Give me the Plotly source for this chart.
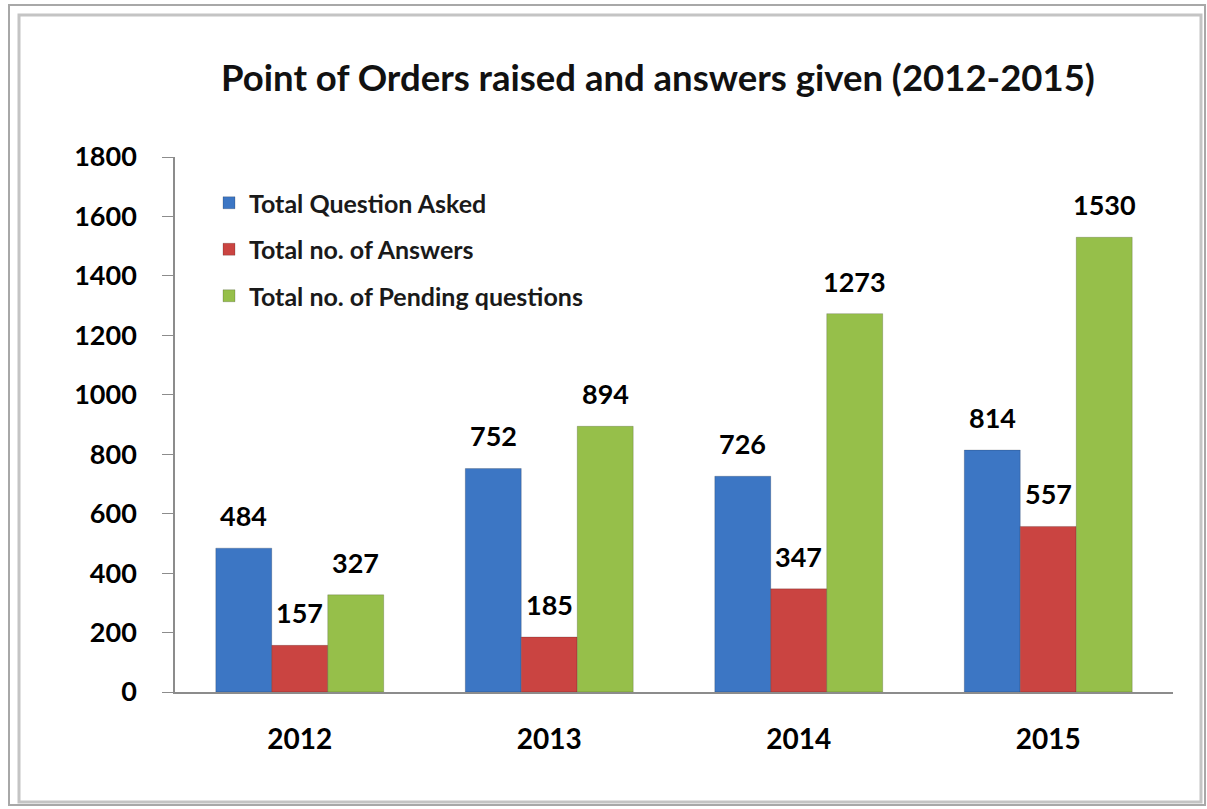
import plotly.graph_objects as go

years = ["2012", "2013", "2014", "2015"]
asked = [484, 752, 726, 814]
answers = [157, 185, 347, 557]
pending = [327, 894, 1273, 1530]
series_names = ["Total Question Asked", "Total no. of Answers", "Total no. of Pending questions"]
series_colors = ["#3C76C4", "#CA4441", "#96BF4A"]
y_ticks = [0, 200, 400, 600, 800, 1000, 1200, 1400, 1600, 1800]

W, H = 1207, 809
L, R, T, B = 175, 34, 157, 117
pw, ph = W - L - R, H - T - B

def px_x(x):
    return (x - L) / pw

def px_y(y):
    return (H - B - y) / ph

FONT = "Lato, 'Open Sans', sans-serif"
BARGAP = 0.327
bw = (1 - BARGAP) / 3

fig = go.Figure()
all_series = [asked, answers, pending]
for j, (name, vals, col) in enumerate(zip(series_names, all_series, series_colors)):
    fig.add_trace(go.Bar(
        x=years, y=vals, name=name,
        marker=dict(color=col, line=dict(color="rgba(0,0,0,0.18)", width=1)),
        legendgroup=name,
    ))
    for i, v in enumerate(vals):
        fig.add_annotation(
            x=i + (j - 1) * bw, y=v, xref="x", yref="y",
            text=str(v), showarrow=False, yanchor="bottom", yshift=14,
            font=dict(family=FONT, size=27, color="#000000", weight=700),
        )

shapes = [
    dict(type="rect", xref="paper", yref="paper",
         x0=px_x(9), x1=px_x(1205), y0=px_y(805), y1=px_y(5),
         line=dict(color="#A8A8A8", width=2), fillcolor="rgba(0,0,0,0)", layer="below"),
    dict(type="rect", xref="paper", yref="paper",
         x0=px_x(19), x1=px_x(1201), y0=px_y(802), y1=px_y(15),
         line=dict(color="#C4C4C4", width=3), fillcolor="#FFFFFF", layer="below"),
]

fig.update_layout(
    width=W, height=H, autosize=False,
    margin=dict(l=L, r=R, t=T, b=B),
    paper_bgcolor="#FFFFFF", plot_bgcolor="rgba(0,0,0,0)",
    barmode="group", bargap=BARGAP, bargroupgap=0,
    title=dict(text="Point of Orders raised and answers given (2012-2015)",
               x=658 / W, xanchor="center",
               y=1 - 78 / H, yanchor="middle",
               font=dict(family=FONT, size=36.5, color="#111111", weight=700)),
    legend=dict(x=px_x(209), y=px_y(180), xanchor="left", yanchor="top",
                font=dict(family=FONT, size=25, color="#1a1a1a", weight=700),
                bgcolor="rgba(0,0,0,0)", tracegroupgap=11, traceorder="grouped",
                itemwidth=30),
    xaxis=dict(showline=True, linecolor="#8C8C8C", linewidth=1.5, ticks="",
               showgrid=False, ticklabelstandoff=22,
               tickfont=dict(family=FONT, size=28, color="#000000", weight=700)),
    yaxis=dict(range=[0, 1800], tickvals=y_ticks, showline=True, linecolor="#8C8C8C",
               linewidth=1.5, ticks="outside", ticklen=11, tickcolor="#8C8C8C",
               showgrid=False, zeroline=False, ticklabelstandoff=20,
               tickfont=dict(family=FONT, size=27, color="#000000", weight=700)),
    shapes=shapes,
    showlegend=True,
)

fig.write_html("out.html", config={"displayModeBar": False},
               post_script="document.body.style.margin='0';document.body.style.overflow='hidden';")
